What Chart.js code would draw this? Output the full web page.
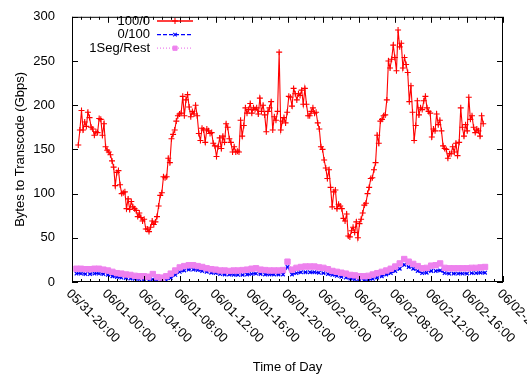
<!DOCTYPE html>
<html>
<head>
<meta charset="utf-8">
<script src="https://cdn.jsdelivr.net/npm/chart.js@4.4.1/dist/chart.umd.min.js"></script>
<style>
  body { margin: 0; background: #fff; }
  #wrap { width: 527px; height: 376px; }
</style>
</head>
<body>
<div id="wrap"><canvas id="grafico" width="527" height="376"></canvas></div>
<script>
// hours since 05/31-20:00, one label every 4 hours
const tickLabels = ['05/31-20:00', '06/01-00:00', '06/01-04:00', '06/01-08:00', '06/01-12:00',
  '06/01-16:00', '06/01-20:00', '06/02-00:00', '06/02-04:00', '06/02-08:00',
  '06/02-12:00', '06/02-16:00', '06/02-20:00'];
const seriesNames = ['100/0', '0/100', '1Seg/Rest'];

// 100/0, sampled evenly from 20:42 to 17:48 next-next day
const fullStart = 0.7, fullEnd = 45.8;
const full100 = [
  155, 172, 194, 172, 181, 176, 192, 186, 175, 173,
  166, 170, 169, 185, 184, 166, 179, 153, 149, 147,
  144, 137, 130, 109, 124, 126, 110, 100, 101, 102,
  83, 94, 82, 91, 85, 83, 81, 74, 78, 73,
  69, 71, 60, 60, 57, 62, 69, 65, 68, 74,
  86, 98, 101, 119, 118, 119, 140, 135, 162, 167,
  172, 182, 188, 190,
  191, 210, 188, 206, 212, 198, 187, 193, 190, 200,
  188, 168, 160, 174, 172, 158, 173, 171, 168, 169,
  157, 154, 142, 153, 163, 151, 165, 158, 179, 175,
  162, 158, 147, 153, 147, 148, 147, 183, 165, 177,
  197, 191, 195, 202, 191, 197, 195, 197, 190, 208,
  193, 200, 189, 170, 193, 197, 204, 172, 187, 183,
  193, 260,
  172, 182, 186, 180, 192, 210, 209, 199, 219, 213,
  206, 213, 211, 217, 201, 219, 201, 188, 188, 193,
  197, 191, 192, 180, 173, 153, 150, 138, 129, 117,
  127, 107, 85, 102, 104, 83, 88, 86, 83, 72,
  69, 77, 52, 51, 58, 62, 56, 68, 50, 66,
  71, 78, 87, 89, 100, 107, 117, 118, 127, 135,
  166, 157, 182, 184, 188, 189, 206,
  250, 242, 252, 268, 254, 239, 285, 266, 270, 242,
  254, 246, 237, 204, 222, 192, 160, 177, 205, 189,
  197, 195, 205, 210, 197, 193, 191, 164, 173, 171,
  190, 178, 183, 171, 154, 151, 150, 140, 145, 145,
  153, 147, 157, 143, 158, 197, 175, 165, 178, 171,
  209, 184, 188, 175, 169, 173, 171, 165, 188, 179
];

// 0/100 and 1Seg/Rest, every half hour from 20:30
const lowStart = 0.5, lowStep = 0.5;
const none100 = [
  9.5, 9.5, 9, 9, 9.5, 9.5, 9, 8,
  6.5, 5.5, 5, 4.5, 4, 3.5, 3, 2.5,
  2, 3, 1.5, 1.5, 2, 4.5, 8, 11.5,
  13, 14, 14, 13.5, 12.5, 11.5, 10.5, 10,
  9, 8.5, 8.5, 8, 8, 8, 8.5, 9,
  9.5, 9, 8.5, 8.5, 8.5, 8.5, 8.5, 17,
  8.5, 10, 11, 11, 11, 11, 10.5, 10,
  9, 8, 7, 6, 5, 4, 3, 2,
  2, 2.5, 3.5, 5, 6.5, 8.5, 10, 12.5,
  15, 19.5, 17, 15, 12.5, 10, 10.5, 12.5,
  12.5, 13, 10, 9.5, 9.5, 9.5, 9.5, 9.5,
  10, 10, 10.5, 10.5
];
const oneSeg = [
  15, 15, 14.5, 14.5, 15, 15, 14, 13,
  11.5, 10, 9.5, 8.5, 8, 7, 6.5, 6.5,
  6, 9, 5.5, 5, 6.5, 9.5, 13, 16.5,
  18, 19, 19, 18, 17, 15.5, 14.5, 14,
  13, 13, 12.5, 13, 13, 13.5, 14, 15,
  15.5, 14, 13.5, 13, 13, 13, 13.5, 23,
  14, 16, 17, 17.5, 17.5, 17.5, 16.5, 16,
  14.5, 12.5, 11.5, 10.5, 9.5, 8, 7.5, 6.5,
  6.5, 7, 8.5, 10, 11.5, 13, 15, 17.5,
  21, 26, 23, 20.5, 18, 15.5, 16, 18.5,
  19, 21, 16, 15.5, 15.5, 15.5, 15.5, 15.5,
  16, 16, 16.5, 17
];

const fonte = '13px "Liberation Sans", Arial, sans-serif';

const pontos = (vals, start, step) => vals.map((v, i) => ({ x: start + i * step, y: v }));

const molduraPlugin = {
  id: 'moldura',
  afterDraw(chart) {
    const { ctx, chartArea: a, scales: { x, y } } = chart;
    ctx.save();
    ctx.strokeStyle = '#000';
    ctx.lineWidth = 1;
    ctx.strokeRect(a.left + 0.5, a.top + 0.5, a.right - a.left - 1, a.bottom - a.top - 1);

    // inward ticks, gnuplot style
    ctx.beginPath();
    for (let h = 0; h <= 48; h++) {
      const px = Math.round(x.getPixelForValue(h)) + 0.5;
      const len = h % 4 === 0 ? 6 : 3;
      ctx.moveTo(px, a.bottom); ctx.lineTo(px, a.bottom - len);
      ctx.moveTo(px, a.top); ctx.lineTo(px, a.top + len);
    }
    y.ticks.forEach(t => {
      const py = Math.round(y.getPixelForValue(t.value)) + 0.5;
      ctx.moveTo(a.left, py); ctx.lineTo(a.left + 6, py);
      ctx.moveTo(a.right, py); ctx.lineTo(a.right - 6, py);
    });
    ctx.stroke();

    // rotated time labels
    ctx.fillStyle = '#000';
    ctx.font = fonte;
    ctx.textAlign = 'left';
    ctx.textBaseline = 'top';
    tickLabels.forEach((lab, i) => {
      const px = x.getPixelForValue(i * 4);
      ctx.save();
      ctx.translate(px + 1, a.bottom + 5);
      ctx.rotate(Math.PI / 4);
      ctx.fillText(lab, 0, 0);
      ctx.restore();
    });

    // axis titles
    ctx.textAlign = 'center';
    ctx.textBaseline = 'middle';
    ctx.fillText('Time of Day', (a.left + a.right) / 2, 367);
    ctx.save();
    ctx.translate(20, (a.top + a.bottom) / 2);
    ctx.rotate(-Math.PI / 2);
    ctx.fillText('Bytes to Transcode (Gbps)', 0, 0);
    ctx.restore();

    // key, top left inside the frame
    const ds = chart.data.datasets;
    ds.forEach((d, i) => {
      const ly = 21 + i * 13.6;
      ctx.textAlign = 'right';
      ctx.fillStyle = '#000';
      ctx.fillText(d.label, 150, ly);
      ctx.strokeStyle = d.borderColor;
      ctx.lineWidth = 1.3;
      ctx.setLineDash(d.borderDash || []);
      ctx.beginPath();
      ctx.moveTo(157, ly); ctx.lineTo(193, ly);
      ctx.stroke();
      ctx.setLineDash([]);
      ctx.lineWidth = d.pointBorderWidth;
      ctx.fillStyle = d.pointBackgroundColor;
      Chart.helpers.drawPoint(ctx, { pointStyle: d.pointStyle, radius: Math.min(d.pointRadius, 3), rotation: 0, borderWidth: d.pointBorderWidth }, 175, ly);
    });
    ctx.restore();
  }
};

new Chart(document.getElementById('grafico').getContext('2d'), {
  type: 'line',
  data: {
    datasets: [
      {
        label: seriesNames[0],
        data: pontos(full100, fullStart, (fullEnd - fullStart) / (full100.length - 1)),
        borderColor: '#ff0000',
        borderWidth: 1.1,
        pointStyle: 'cross',
        pointRadius: 3,
        pointBorderWidth: 1.1,
        pointBorderColor: '#ff0000',
        pointBackgroundColor: '#ff0000',
        order: 2
      },
      {
        label: seriesNames[1],
        data: pontos(none100, lowStart, lowStep),
        borderColor: '#0000ff',
        borderWidth: 1.5,
        borderDash: [4, 2],
        pointStyle: 'crossRot',
        pointRadius: 2.5,
        pointBorderWidth: 1.2,
        pointBorderColor: '#0000ff',
        pointBackgroundColor: '#0000ff',
        order: 1
      },
      {
        label: seriesNames[2],
        data: pontos(oneSeg, lowStart, lowStep),
        borderColor: '#ee82ee',
        borderWidth: 1.2,
        borderDash: [1, 2],
        pointStyle: 'rect',
        pointRadius: 3.8,
        pointBorderWidth: 1,
        pointBorderColor: '#ee82ee',
        pointBackgroundColor: '#ee82ee',
        order: 0
      }
    ]
  },
  options: {
    responsive: false,
    animation: false,
    events: [],
    layout: { padding: { top: 9, right: 24, left: 0, bottom: 0 } },
    plugins: {
      legend: { display: false },
      tooltip: { enabled: false }
    },
    scales: {
      x: {
        type: 'linear',
        min: 0,
        max: 48,
        ticks: { display: false, stepSize: 4 },
        grid: { display: false },
        border: { display: false },
        afterFit: s => { s.height = 94; }
      },
      y: {
        min: 0,
        max: 300,
        ticks: { stepSize: 50, padding: 9, color: '#000', font: { family: '"Liberation Sans", Arial, sans-serif', size: 13 } },
        grid: { display: false },
        border: { display: false },
        afterFit: s => { s.width = 72; }
      }
    }
  },
  plugins: [molduraPlugin]
});
</script>
</body>
</html>
